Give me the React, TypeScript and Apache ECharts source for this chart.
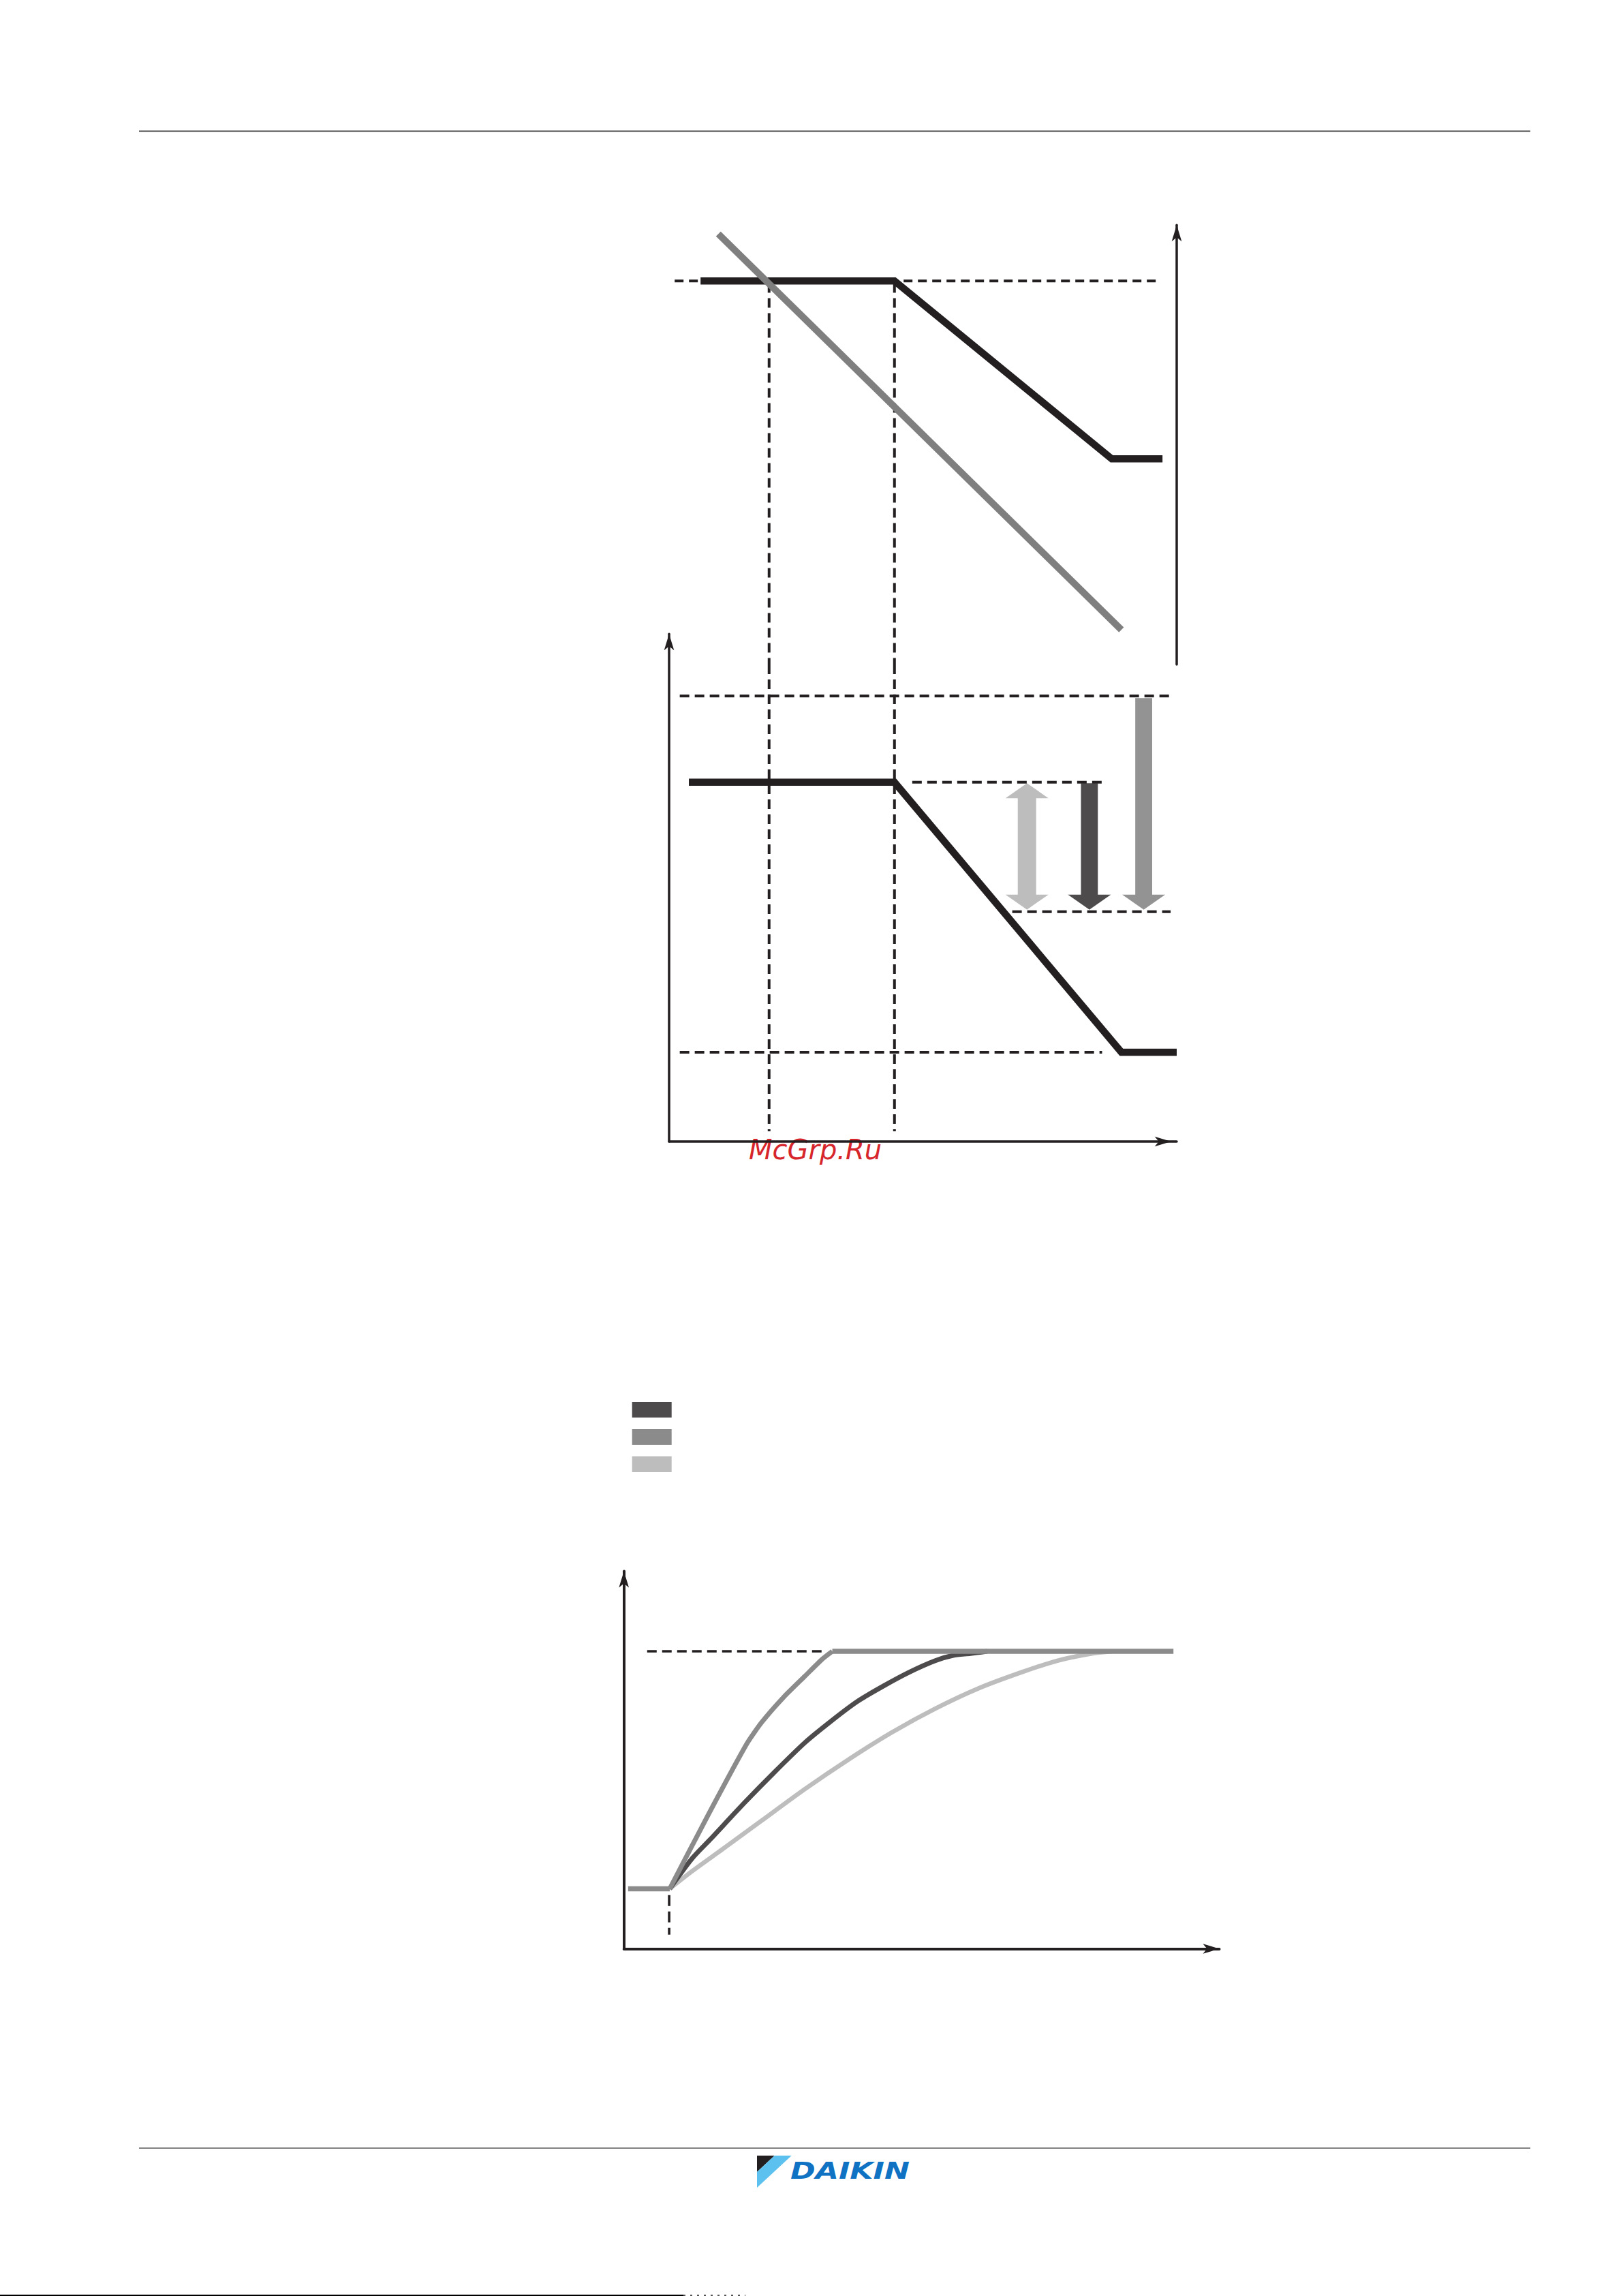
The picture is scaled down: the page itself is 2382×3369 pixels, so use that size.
import React, { useEffect, useRef } from "react";
import * as echarts from "echarts";

// ---------------- Top chart (right-hand axis) ----------------
const topBlackX = [6.2, 44.4, 87.2, 97.2];
const topBlackY = [87.3, 87.3, 46.8, 46.8];
const topGreyX = [9.7, 89.1];
const topGreyY = [98.0, 7.9];
const topDashX = [1.1, 96.6];
const topDashY = [87.3, 87.3];

// vertical guide lines shared by the top and middle charts
const guideX = [19.7, 44.4];
const guideTopSpan = [86.8, 0];
const guideMidSpan = [94.0, 2.0];

// ---------------- Middle chart ----------------
const midBlackX = [3.9, 44.4, 89.1, 100];
const midBlackY = [70.8, 70.8, 17.6, 17.6];
const midDashLevel = [87.8, 70.8, 45.3, 17.6];
const midDashFrom = [2.1, 47.9, 67.6, 2.1];
const midDashTo = [98.8, 85.6, 98.8, 85.3];
const arrowX = [70.5, 82.8, 93.5];
const arrowTop = [70.6, 70.6, 87.4];
const arrowBottom = [45.7, 45.7, 45.7];
const arrowDouble = [1, 0, 0];

// ---------------- Bottom chart ----------------
const legendNames = ["dark", "medium", "light"];
const startFlatX = [0.7, 7.7];
const startFlatY = [15.9, 15.9];
const plateauX = [35.0, 92.3];
const plateauY = [78.8, 78.8];
const targetDashX = [3.9, 33.3];
const targetDashY = [78.8, 78.8];
const startDashX = [7.6, 7.6];
const startDashY = [14.2, 3.75];
const fastX = [7.7, 14.3, 20.6, 23.1, 26.8, 30.4, 33.3, 35.0];
const fastY = [15.9, 35.9, 54.2, 59.9, 66.6, 72.2, 76.7, 78.8];
const darkX = [7.7, 11.5, 14.4, 20.2, 25.3, 30.4, 34.8, 39.2, 43.6, 48.0, 52.3, 55.3, 58.2, 61.0];
const darkY = [15.9, 24.0, 28.8, 38.6, 46.8, 54.6, 60.3, 65.5, 69.6, 73.3, 76.3, 77.7, 78.2, 78.8];
const slowX = [7.7, 11.5, 16.6, 23.1, 30.4, 37.7, 45.0, 52.3, 59.6, 66.9, 72.8, 78.6, 82.0];
const slowY = [15.9, 20.6, 26.4, 33.9, 42.3, 50.1, 57.3, 63.6, 69.0, 73.3, 76.3, 78.2, 78.8];

// ---------------- styles ----------------
const INK = "#231f20";
const C_DARK = "#4d4b4c";
const C_MED = "#8c8b8c";
const C_LIGHT = "#bdbdbd";
const C_GREY_LINE = "#7f7f7f";
const ARROW_COLORS = ["#bdbdbd", "#4d4b4c", "#939393"];

const zip = (xs: number[], ys: number[]) => xs.map((x, i) => [x, ys[i]]);

function axisBase(gridIndex: number, extra: any = {}) {
  return {
    gridIndex,
    type: "value",
    min: 0,
    max: 100,
    axisTick: { show: false },
    axisLabel: { show: false },
    splitLine: { show: false },
    ...extra,
  };
}

function arrowLine(width: number, offset = 0) {
  return {
    show: true,
    onZero: false,
    symbol: ["none", "arrow"],
    symbolSize: [11, 24],
    symbolOffset: [0, offset],
    lineStyle: { color: INK, width },
  };
}

function lineSeries(name: string, x: number, y: number, data: number[][], color: string, width: number, extra: any = {}) {
  return {
    name,
    type: "line",
    xAxisIndex: x,
    yAxisIndex: y,
    data,
    symbol: "none",
    clip: false,
    silent: true,
    color,
    itemStyle: { color },
    lineStyle: { color, width, cap: "butt", join: "miter" },
    ...extra,
  };
}

function dashSeries(x: number, y: number, data: number[][], width = 4, dash = [13, 8]) {
  return lineSeries("", x, y, data, INK, width, {
    lineStyle: { color: INK, width, type: dash, cap: "butt" },
  });
}

export default function App() {
  const ref = useRef<HTMLDivElement>(null);

  useEffect(() => {
    if (!ref.current) return;
    const chart = echarts.init(ref.current, undefined, { renderer: "svg" });

    const series: any[] = [];

    // top chart
    series.push(dashSeries(0, 0, zip(topDashX, topDashY), 4, [13, 8]));
    guideX.forEach((gx) => {
      series.push(dashSeries(0, 0, [[gx, guideTopSpan[0]], [gx, guideTopSpan[1]]], 4, [14, 8]));
    });
    series.push(lineSeries("top-black", 0, 0, zip(topBlackX, topBlackY), INK, 10.5));
    series.push(lineSeries("top-grey", 0, 0, zip(topGreyX, topGreyY), C_GREY_LINE, 10));

    // middle chart
    midDashLevel.forEach((lv, i) => {
      series.push(dashSeries(1, 1, [[midDashFrom[i], lv], [midDashTo[i], lv]], 4, [14, 8]));
    });
    guideX.forEach((gx) => {
      series.push(dashSeries(1, 1, [[gx, guideMidSpan[0]], [gx, guideMidSpan[1]]], 4, [14, 8]));
    });
    series.push(lineSeries("mid-black", 1, 1, zip(midBlackX, midBlackY), INK, 10.5));
    series.push({
      type: "custom",
      xAxisIndex: 1,
      yAxisIndex: 1,
      silent: true,
      clip: false,
      dimensions: ["x", "top", "bottom", "double"],
      encode: { x: 0, y: [1, 2] },
      data: arrowX.map((x, i) => [x, arrowTop[i], arrowBottom[i], arrowDouble[i]]),
      renderItem: (params: any, api: any) => {
        const pt = api.coord([api.value(0), api.value(1)]);
        const pb = api.coord([api.value(0), api.value(2)]);
        const dbl = api.value(3) === 1;
        const cx = pt[0];
        const top = pt[1];
        const bot = pb[1];
        const hl = 22;
        const hw = 31.5;
        const sw = dbl ? 13.5 : 12.4;
        const pts = dbl
          ? [
              [cx, top],
              [cx + hw, top + hl],
              [cx + sw, top + hl],
              [cx + sw, bot - hl],
              [cx + hw, bot - hl],
              [cx, bot],
              [cx - hw, bot - hl],
              [cx - sw, bot - hl],
              [cx - sw, top + hl],
              [cx - hw, top + hl],
            ]
          : [
              [cx - sw, top],
              [cx + sw, top],
              [cx + sw, bot - hl],
              [cx + hw, bot - hl],
              [cx, bot],
              [cx - hw, bot - hl],
              [cx - sw, bot - hl],
            ];
        return {
          type: "polygon",
          shape: { points: pts },
          style: { fill: ARROW_COLORS[params.dataIndex] },
        };
      },
    });

    // bottom chart
    series.push(dashSeries(2, 2, zip(targetDashX, targetDashY), 3.6, [14, 8]));
    series.push(dashSeries(2, 2, zip(startDashX, startDashY), 3.6, [16, 8]));
    series.push(lineSeries("light", 2, 2, zip(slowX, slowY), C_LIGHT, 6.5, { smooth: 0.25 }));
    series.push(lineSeries("dark", 2, 2, zip(darkX, darkY), C_DARK, 7, { smooth: 0.25 }));
    series.push(lineSeries("medium", 2, 2, zip(fastX, fastY), C_MED, 7, { smooth: 0.2 }));
    series.push(lineSeries("plateau", 2, 2, zip(plateauX, plateauY), C_MED, 7.5));
    series.push(lineSeries("start", 2, 2, zip(startFlatX, startFlatY), C_MED, 7.5));

    const option: any = {
      animation: false,
      backgroundColor: "#ffffff",
      grid: [
        { left: 982, top: 330.3, width: 745, height: 644.7 },
        { left: 982, top: 930.3, width: 745, height: 744.7 },
        { left: 915.7, top: 2305.5, width: 873.8, height: 554 },
      ],
      xAxis: [
        axisBase(0, { show: false }),
        axisBase(1, { position: "bottom", axisLine: arrowLine(3.5, -8.3) }),
        axisBase(2, { position: "bottom", axisLine: arrowLine(4) }),
      ],
      yAxis: [
        axisBase(0, { position: "right", axisLine: arrowLine(3.5) }),
        axisBase(1, { position: "left", axisLine: arrowLine(3.5) }),
        axisBase(2, { position: "left", axisLine: arrowLine(4) }),
      ],
      legend: {
        data: legendNames,
        orient: "vertical",
        left: 922.7,
        top: 2052,
        itemWidth: 58,
        itemHeight: 23,
        itemGap: 17,
        icon: "rect",
        selectedMode: false,
        formatter: () => "",
        textStyle: { fontSize: 10 },
      },
      series,
      graphic: [
        {
          type: "line",
          silent: true,
          shape: { x1: 204, y1: 192.5, x2: 2246, y2: 192.5 },
          style: { stroke: "#4d4d4f", lineWidth: 2.2 },
        },
        {
          type: "line",
          silent: true,
          shape: { x1: 204, y1: 3152, x2: 2246, y2: 3152 },
          style: { stroke: "#58595b", lineWidth: 1.6 },
        },
        {
          type: "line",
          silent: true,
          shape: { x1: 0, y1: 3368, x2: 1003, y2: 3368 },
          style: { stroke: "#000000", lineWidth: 2 },
        },
        {
          type: "line",
          silent: true,
          shape: { x1: 1003, y1: 3368, x2: 1094, y2: 3368 },
          style: { stroke: "#555555", lineWidth: 2, lineDash: [3, 7] },
        },
        {
          type: "text",
          silent: true,
          x: 1099,
          y: 1707,
          style: {
            text: "McGrp.Ru",
            fontFamily: "DejaVu Sans",
            fontStyle: "italic",
            fontSize: 40,
            fill: "#d7262b",
            align: "left",
            verticalAlign: "bottom",
          },
        },
        {
          type: "polygon",
          silent: true,
          shape: { points: [[1111, 3163], [1136.7, 3163], [1111, 3187]] },
          style: { fill: "#231f20" },
        },
        {
          type: "polygon",
          silent: true,
          shape: { points: [[1136.7, 3163], [1161.7, 3163], [1111, 3210], [1111, 3187]] },
          style: { fill: "#5cc1ee" },
        },
        {
          type: "text",
          silent: true,
          x: 1160,
          y: 3185,
          scaleX: 1.3,
          style: {
            text: "DAIKIN",
            fontFamily: "DejaVu Sans",
            fontStyle: "italic",
            fontWeight: "bold",
            fontSize: 34,
            fill: "#0f72c3",
            align: "left",
            verticalAlign: "middle",
          },
        },
      ],
    };

    chart.setOption(option);
    return () => chart.dispose();
  }, []);

  return (
    <div
      ref={ref}
      style={{ position: "absolute", left: 0, top: 0, width: 2382, height: 3369, background: "#fff" }}
    />
  );
}
